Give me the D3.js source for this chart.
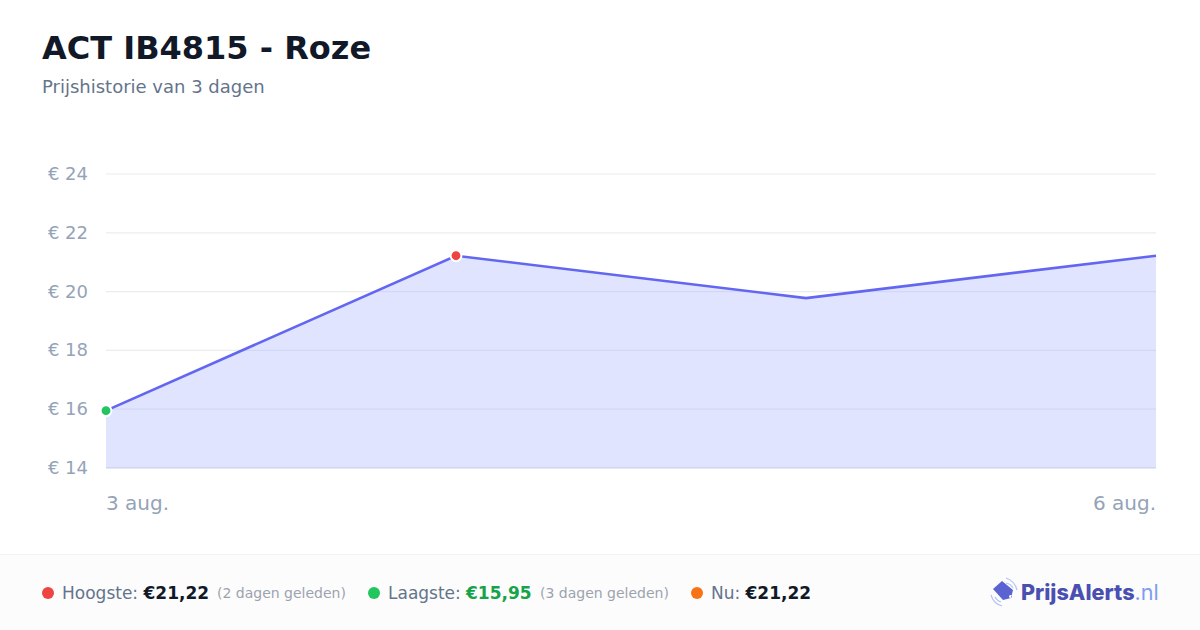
<!DOCTYPE html>
<html><head><meta charset="utf-8">
<script src="https://cdn.jsdelivr.net/npm/d3@7/dist/d3.min.js"></script>
<style>html,body{margin:0;padding:0;background:#fff}svg{display:block}text{font-family:"DejaVu Sans",sans-serif}</style>
</head><body><svg id="c" width="1200" height="630"></svg>
<script>
const dates = ["2025-08-03","2025-08-04","2025-08-05","2025-08-06"];
const prices = [15.95,21.22,19.78,21.22];
const yTicks = [14,16,18,20,22,24];
const xLabels = ["3 aug.","6 aug."];
const title = "ACT IB4815 - Roze";
const subtitle = "Prijshistorie van 3 dagen";

const svg = d3.select("#c");
const parse = d3.utcParse("%Y-%m-%d");
const pts = dates.map((d,i)=>({d:parse(d),v:prices[i]}));
const x = d3.scaleUtc().domain(d3.extent(pts,p=>p.d)).range([106,1156]);
const y = d3.scaleLinear().domain([14,24]).range([468,174]);

svg.append("text").attr("x",42).attr("y",59).attr("font-size",32).attr("font-weight",700).attr("fill","#111827").text(title);
svg.append("text").attr("x",42).attr("y",93).attr("font-size",18).attr("fill","#64748b").text(subtitle);

svg.selectAll("line.g").data(yTicks).join("line").attr("class","g")
  .attr("x1",106).attr("x2",1156).attr("y1",d=>y(d)).attr("y2",d=>y(d))
  .attr("stroke",d=>d===14?"#dfe2e8":"#eaecf0").attr("stroke-width",d=>d===14?1.5:1.2);
svg.selectAll("text.yt").data(yTicks).join("text").attr("class","yt")
  .attr("x",88).attr("y",d=>y(d)+6).attr("text-anchor","end").attr("font-size",18).attr("fill","#94a3b8")
  .text(d=>"€ "+d);

svg.append("path").datum(pts).attr("fill","#a6b2ff").attr("fill-opacity",0.35)
  .attr("d",d3.area().x(p=>x(p.d)).y0(y(14)).y1(p=>y(p.v)));
svg.append("path").datum(pts).attr("fill","none").attr("stroke","#6366f1").attr("stroke-width",2.6)
  .attr("d",d3.line().x(p=>x(p.d)).y(p=>y(p.v)));

svg.append("text").attr("x",x(pts[0].d)).attr("y",510).attr("font-size",20).attr("fill","#94a3b8").text(xLabels[0]);
svg.append("text").attr("x",x(pts[3].d)).attr("y",510).attr("text-anchor","end").attr("font-size",20).attr("fill","#94a3b8").text(xLabels[1]);

const low = pts[0], high = pts[1];
[[low,"#22c55e",5.4],[high,"#ef4444",5.4]].forEach(([p,c,r])=>{
  svg.append("circle").attr("cx",x(p.d)).attr("cy",y(p.v)).attr("r",r).attr("fill",c).attr("stroke","#fff").attr("stroke-width",2);
});

svg.append("rect").attr("x",0).attr("y",554).attr("width",1200).attr("height",76).attr("fill","#fcfcfc");
svg.append("line").attr("x1",0).attr("x2",1200).attr("y1",554.5).attr("y2",554.5).attr("stroke","#f2f2f4");

const fmt = v=>"€"+v.toFixed(2).replace(".",",");
const legend = [
 {cx:48,c:"#ef4444",lx:62,l:"Hoogste:",vx:143.5,v:fmt(21.22),vc:"#111827",nx:217,n:"(2 dagen geleden)"},
 {cx:374,c:"#22c55e",lx:388,l:"Laagste:",vx:466,v:fmt(15.95),vc:"#16a34a",nx:540,n:"(3 dagen geleden)"},
 {cx:697,c:"#f97316",lx:711,l:"Nu:",vx:745.5,v:fmt(21.22),vc:"#111827"}
];
legend.forEach(e=>{
  svg.append("circle").attr("cx",e.cx).attr("cy",593).attr("r",6).attr("fill",e.c);
  svg.append("text").attr("x",e.lx).attr("y",599).attr("font-size",17).attr("fill","#64748b").text(e.l);
  svg.append("text").attr("x",e.vx).attr("y",599).attr("font-size",17).attr("font-weight",700).attr("fill",e.vc).text(e.v);
  if(e.n) svg.append("text").attr("x",e.nx).attr("y",598).attr("font-size",14).attr("fill","#9ca3af").text(e.n);
});

const logo = svg.append("g");
logo.append("path").attr("fill-rule","evenodd").attr("fill","#5b63d3")
  .attr("d","M993 589 L1002 581 L1013 590 L1011 598 L1003 600 Z M1010.5 595 a1.5 1.5 0 1 0 0.01 0 Z");
[["M1006 578 A17 17 0 0 1 1017 590"],["M1006 583 A10 10 0 0 1 1013 588"],["M991 595 A16 16 0 0 0 1002 606"],["M995 597 A10 10 0 0 0 1001 602"]]
 .forEach(([d])=>logo.append("path").attr("d",d).attr("fill","none").attr("stroke","#b4c2f7").attr("stroke-width",1.2));
const lt = svg.append("text").attr("x",1021).attr("y",600).attr("font-size",21.6).attr("font-weight",800).attr("fill","#4a4fb0").style("font-family","Inter, sans-serif");
lt.append("tspan").text("PrijsAlerts");
lt.append("tspan").attr("font-weight",400).attr("fill","#7f9cf0").text(".nl");
</script></body></html>
